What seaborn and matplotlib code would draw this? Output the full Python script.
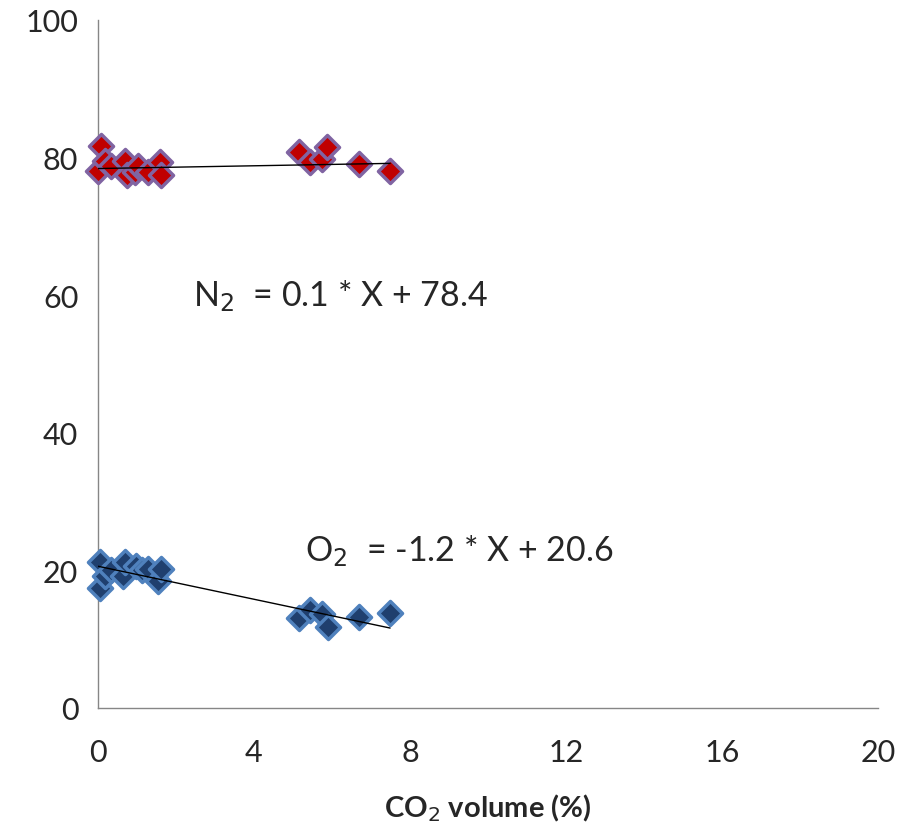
import numpy as np
import pandas as pd
import seaborn as sns
import matplotlib.pyplot as plt

# CO2 volume (%) and gas fractions
co2_n2 = [0.07, 0.01, 0.18, 0.35, 0.69, 0.74, 0.95, 1.03, 1.29, 1.59, 1.63,
          5.16, 5.44, 5.74, 5.88, 6.70, 7.49]
n2 = [81.7, 78.1, 79.5, 78.7, 79.5, 77.4, 77.9, 78.8, 77.9, 79.3, 77.4,
      80.8, 79.3, 79.8, 81.5, 79.1, 78.0]

co2_o2 = [0.05, 0.05, 0.18, 0.35, 0.65, 0.69, 0.99, 1.12, 1.29, 1.55, 1.63,
          5.16, 5.44, 5.74, 5.91, 6.70, 7.49]
o2 = [21.2, 17.5, 19.2, 20.0, 19.2, 21.2, 20.7, 20.0, 20.2, 18.5, 20.2,
      13.0, 14.3, 13.7, 11.7, 13.2, 13.8]

# fitted lines (slope, intercept) as printed on the chart
n2_fit = (0.1, 78.4)
o2_fit = (-1.2, 20.6)

df_n2 = pd.DataFrame({'x': co2_n2, 'y': n2})
df_o2 = pd.DataFrame({'x': co2_o2, 'y': o2})

sns.set_style('white')
plt.rcParams['font.family'] = ['Lato', 'DejaVu Sans']

fig, ax = plt.subplots(figsize=(9.14, 8.37), dpi=100)
fig.subplots_adjust(left=0.107, right=0.961, bottom=0.153, top=0.975)

sns.scatterplot(data=df_n2, x='x', y='y', marker='D', s=150, color='#C00000',
                edgecolor='#8064A2', linewidth=2.5, ax=ax, zorder=3, clip_on=False)
sns.scatterplot(data=df_o2, x='x', y='y', marker='D', s=150, color='#1F3F6E',
                edgecolor='#4F81BD', linewidth=2.5, ax=ax, zorder=3, clip_on=False)

# trend lines over the data range
xs = np.array([0, max(co2_n2)])
ax.plot(xs, n2_fit[0] * xs + n2_fit[1], color='black', lw=1, zorder=4)
xs = np.array([0, max(co2_o2)])
ax.plot(xs, o2_fit[0] * xs + o2_fit[1], color='black', lw=1, zorder=4)

ax.text(2.45, 60, 'N$_2$  = 0.1 * X + 78.4', fontsize=24.5, va='center')
ax.text(5.3, 23, 'O$_2$  = -1.2 * X + 20.6', fontsize=24.5, va='center')

ax.set_xlim(0, 20)
ax.set_ylim(0, 100)
ax.set_xticks([0, 4, 8, 12, 16, 20])
ax.set_yticks([0, 20, 40, 60, 80, 100])
ax.tick_params(axis='both', labelsize=22, length=8, width=1, color='#868686',
               direction='out', pad=6)
ax.tick_params(axis='x', pad=14)
ax.set_xlabel('CO$_2$ volume (%)', fontsize=21, fontweight='bold', labelpad=18)
ax.set_ylabel('')

for side in ['top', 'right']:
    ax.spines[side].set_visible(False)
for side in ['left', 'bottom']:
    ax.spines[side].set_color('#868686')
    ax.spines[side].set_linewidth(1)

plt.savefig('out.png', dpi=100)
